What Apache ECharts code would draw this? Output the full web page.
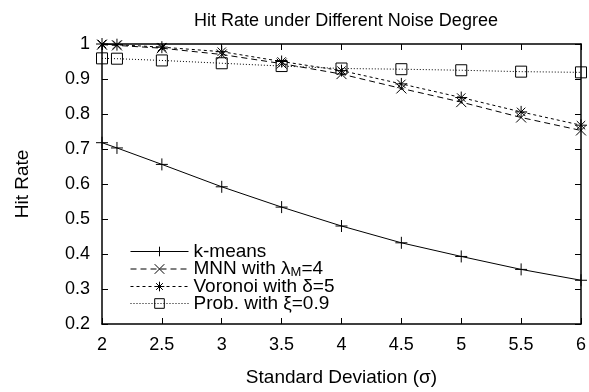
<!DOCTYPE html>
<html>
<head>
<meta charset="utf-8">
<script src="https://cdn.jsdelivr.net/npm/echarts@6/dist/echarts.min.js"></script>
<style>
  html, body { margin: 0; padding: 0; background: #fff; }
  #main { width: 589px; height: 392px; }
</style>
</head>
<body>
<div id="main"></div>
<script>
// sigma values (x axis)
let sigma = [2, 2.125, 2.5, 3, 3.5, 4, 4.5, 5, 5.5, 6]

let kmeans = [0.718, 0.703, 0.656, 0.592, 0.534, 0.480, 0.432, 0.393, 0.356, 0.325]
let mnn = [0.998, 0.996, 0.988, 0.970, 0.944, 0.914, 0.873, 0.834, 0.790, 0.753]
let voronoi = [1.0, 0.998, 0.991, 0.978, 0.950, 0.924, 0.886, 0.847, 0.806, 0.768]
let prob = [0.959, 0.958, 0.953, 0.945, 0.937, 0.930, 0.928, 0.925, 0.921, 0.919]

let xTicks = [2, 2.5, 3, 3.5, 4, 4.5, 5, 5.5, 6]
let yTicks = [0.2, 0.3, 0.4, 0.5, 0.6, 0.7, 0.8, 0.9, 1]

let font = 'Liberation Sans, Arial, sans-serif'
let fs = 18

let plusPath = 'path://M0,5L10,5M5,0L5,10'
let crossPath = 'path://M0,0L10,10M0,10L10,0'
let starPath = 'path://M0,5L10,5M5,0L5,10M1.5,1.5L8.5,8.5M1.5,8.5L8.5,1.5'

function pairs(ys) {
    return sigma.map((x, i) => [x, ys[i]])
}

let myChart = echarts.init(document.getElementById('main'))

let axisCommon = {
    type: 'value',
    axisLine: { show: true, lineStyle: { color: '#000', width: 1.5 } },
    axisTick: { show: true, inside: true, length: 6, lineStyle: { color: '#000', width: 1 } },
    splitLine: { show: false },
    axisLabel: { show: false }
}

let option = {
    animation: false,
    backgroundColor: '#fff',
    title: {
        text: 'Hit Rate under Different Noise Degree',
        left: 341,
        textAlign: 'center',
        top: 7,
        textStyle: { fontFamily: font, fontSize: fs, fontWeight: 'normal', color: '#000' }
    },
    legend: {
        orient: 'vertical',
        left: 125,
        top: 237,
        itemWidth: 58,
        itemHeight: 12,
        itemGap: -2,
        data: ['k-means', 'MNN', 'Voronoi', 'Prob'],
        lineStyle: { width: 1 },
        itemStyle: { borderWidth: 1 },
        formatter: function (name) {
            if (name === 'MNN') return 'MNN with λ{sub|M}=4'
            if (name === 'Voronoi') return 'Voronoi with δ=5'
            if (name === 'Prob') return 'Prob. with ξ=0.9'
            return name
        },
        textStyle: {
            fontFamily: font, fontSize: 19, lineHeight: 18, color: '#000',
            rich: { sub: { fontFamily: font, fontSize: 13, lineHeight: 18, padding: [7, 0, 0, 0], color: '#000' } }
        }
    },
    grid: { left: 102, right: 8, top: 44, bottom: 68 },
    xAxis: [
        Object.assign({}, axisCommon, {
            position: 'bottom', min: 2, max: 6, interval: 0.5,
            name: 'Standard Deviation (σ)',
            nameLocation: 'middle', nameGap: 44,
            nameTextStyle: { fontFamily: font, fontSize: 19, color: '#000' },
            axisLabel: { show: true, margin: 12, fontFamily: font, fontSize: fs, color: '#000',
                formatter: v => xTicks.indexOf(v) >= 0 ? String(v) : '' }
        }),
        Object.assign({}, axisCommon, { position: 'top', min: 2, max: 6, interval: 0.5 })
    ],
    yAxis: [
        Object.assign({}, axisCommon, {
            position: 'left', min: 0.2, max: 1, interval: 0.1,
            name: 'Hit Rate',
            nameLocation: 'middle', nameGap: 70,
            nameTextStyle: { fontFamily: font, fontSize: 19, color: '#000' },
            axisLabel: { show: true, margin: 12, fontFamily: font, fontSize: fs, color: '#000',
                formatter: v => String(Math.round(v * 10) / 10) }
        }),
        Object.assign({}, axisCommon, { position: 'right', min: 0.2, max: 1, interval: 0.1 })
    ],
    series: [
        {
            name: 'k-means', type: 'line', data: pairs(kmeans),
            symbol: plusPath, symbolSize: 12,
            lineStyle: { color: '#000', width: 1, type: 'solid' },
            itemStyle: { color: 'none', borderColor: '#000', borderWidth: 1 }
        },
        {
            name: 'MNN', type: 'line', data: pairs(mnn),
            symbol: crossPath, symbolSize: 10,
            lineStyle: { color: '#000', width: 1, type: [6, 4] },
            itemStyle: { color: 'none', borderColor: '#000', borderWidth: 1 }
        },
        {
            name: 'Voronoi', type: 'line', data: pairs(voronoi),
            symbol: starPath, symbolSize: 12,
            lineStyle: { color: '#000', width: 1, type: [3, 3] },
            itemStyle: { color: 'none', borderColor: '#000', borderWidth: 1 }
        },
        {
            name: 'Prob', type: 'line', data: pairs(prob),
            symbol: 'rect', symbolSize: 11,
            lineStyle: { color: '#000', width: 1, type: [1, 2] },
            itemStyle: { color: 'none', borderColor: '#000', borderWidth: 1 }
        }
    ]
}

myChart.setOption(option)
</script>
</body>
</html>
